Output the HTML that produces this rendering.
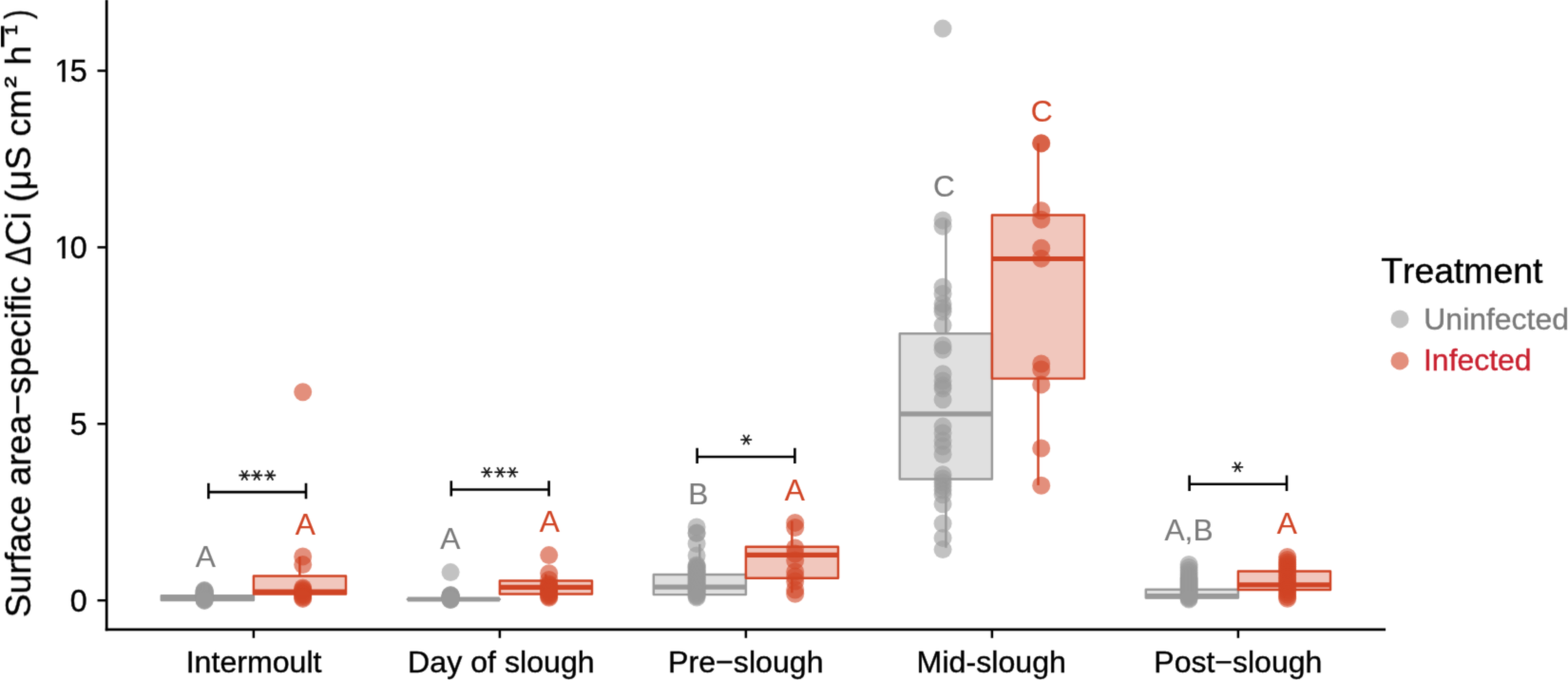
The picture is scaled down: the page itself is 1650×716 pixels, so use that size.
<!DOCTYPE html>
<html lang="en"><head><meta charset="utf-8"><title>Surface area-specific conductivity by moult stage</title>
<style>html,body{margin:0;padding:0;background:#fff;overflow:hidden}svg{display:block}text{font-family:"Liberation Sans",Arial,Helvetica,sans-serif;font-kerning:none;font-variant-ligatures:none}.st{font-family:"DejaVu Sans","Liberation Sans",sans-serif}</style>
</head><body>
<svg width="1650" height="716" viewBox="0 0 1650 716" role="img" aria-label="Box plot of surface area-specific conductivity change by moult stage and treatment">
<rect width="1650" height="716" fill="#ffffff"/>
<defs><filter id="soft" x="-2%" y="-2%" width="104%" height="104%" color-interpolation-filters="sRGB"><feConvolveMatrix order="3" kernelMatrix="0.025 0.095 0.025 0.095 0.52 0.095 0.025 0.095 0.025" divisor="1" edgeMode="duplicate" preserveAlpha="false"/></filter></defs>
<defs><clipPath id="nofoot" clipPathUnits="userSpaceOnUse"><rect x="-80" y="-40" width="100" height="37.13"/><rect x="-26.29" y="-2.97" width="3.26" height="6"/><rect x="-17.32" y="-2.97" width="40" height="12"/></clipPath></defs>
<g filter="url(#soft)">
<g stroke="#999999" stroke-width="2.45" fill="none" stroke-linejoin="round">
<rect x="169.8" y="627.3" width="97.1" height="4.70" fill="#999999" fill-opacity="0.3"/>
<line x1="169.8" y1="629.7" x2="266.9" y2="629.7" stroke-width="5.2"/>
</g>
<g stroke="#D04425" stroke-width="2.45" fill="none" stroke-linejoin="round">
<line x1="315.4" y1="586.1" x2="315.4" y2="606.5"/>
<line x1="315.4" y1="625.6" x2="315.4" y2="631.0"/>
<rect x="266.9" y="606.5" width="97.1" height="19.10" fill="#D04425" fill-opacity="0.3"/>
<line x1="266.9" y1="623.2" x2="364.0" y2="623.2" stroke-width="5.2"/>
</g>
<g stroke="#999999" stroke-width="2.45" fill="none" stroke-linejoin="round">
<rect x="428.8" y="631.0" width="97.1" height="0.01" fill="#999999" fill-opacity="0.3"/>
<line x1="428.8" y1="631.0" x2="525.9" y2="631.0" stroke-width="5.2"/>
</g>
<g stroke="#D04425" stroke-width="2.45" fill="none" stroke-linejoin="round">
<line x1="574.4" y1="604.5" x2="574.4" y2="611.4"/>
<line x1="574.4" y1="625.5" x2="574.4" y2="630.0"/>
<rect x="525.9" y="611.4" width="97.1" height="14.10" fill="#D04425" fill-opacity="0.3"/>
<line x1="525.9" y1="618.4" x2="623.0" y2="618.4" stroke-width="5.2"/>
</g>
<g stroke="#999999" stroke-width="2.45" fill="none" stroke-linejoin="round">
<line x1="736.3" y1="572.9" x2="736.3" y2="605.0"/>
<line x1="736.3" y1="626.1" x2="736.3" y2="630.0"/>
<rect x="687.8" y="605.0" width="97.1" height="21.10" fill="#999999" fill-opacity="0.3"/>
<line x1="687.8" y1="618.2" x2="784.9" y2="618.2" stroke-width="5.2"/>
</g>
<g stroke="#D04425" stroke-width="2.45" fill="none" stroke-linejoin="round">
<line x1="833.4" y1="548.5" x2="833.4" y2="575.7"/>
<line x1="833.4" y1="608.7" x2="833.4" y2="624.2"/>
<rect x="784.9" y="575.7" width="97.1" height="33.00" fill="#D04425" fill-opacity="0.3"/>
<line x1="784.9" y1="584.4" x2="882.0" y2="584.4" stroke-width="5.2"/>
</g>
<g stroke="#999999" stroke-width="2.45" fill="none" stroke-linejoin="round">
<line x1="995.4" y1="231.6" x2="995.4" y2="351.3"/>
<line x1="995.4" y1="504.5" x2="995.4" y2="576.8"/>
<rect x="946.8" y="351.3" width="97.1" height="153.20" fill="#999999" fill-opacity="0.3"/>
<line x1="946.8" y1="435.8" x2="1043.9" y2="435.8" stroke-width="5.2"/>
</g>
<g stroke="#D04425" stroke-width="2.45" fill="none" stroke-linejoin="round">
<line x1="1092.5" y1="150.8" x2="1092.5" y2="226.5"/>
<line x1="1092.5" y1="398.6" x2="1092.5" y2="510.9"/>
<rect x="1043.9" y="226.5" width="97.1" height="172.10" fill="#D04425" fill-opacity="0.3"/>
<line x1="1043.9" y1="272.5" x2="1141.0" y2="272.5" stroke-width="5.2"/>
</g>
<g stroke="#999999" stroke-width="2.45" fill="none" stroke-linejoin="round">
<line x1="1254.4" y1="600.0" x2="1254.4" y2="620.7"/>
<line x1="1254.4" y1="629.5" x2="1254.4" y2="631.0"/>
<rect x="1205.8" y="620.7" width="97.1" height="8.80" fill="#999999" fill-opacity="0.3"/>
<line x1="1205.8" y1="627.6" x2="1302.9" y2="627.6" stroke-width="5.2"/>
</g>
<g stroke="#D04425" stroke-width="2.45" fill="none" stroke-linejoin="round">
<line x1="1351.5" y1="590.0" x2="1351.5" y2="601.4"/>
<line x1="1351.5" y1="620.9" x2="1351.5" y2="630.0"/>
<rect x="1302.9" y="601.4" width="97.1" height="19.50" fill="#D04425" fill-opacity="0.3"/>
<line x1="1302.9" y1="615.9" x2="1400.0" y2="615.9" stroke-width="5.2"/>
</g>
<g fill="#999999" fill-opacity="0.6">
<circle cx="215.1" cy="621.6" r="9.5"/><circle cx="215.1" cy="622.1" r="9.5"/><circle cx="215.1" cy="622.6" r="9.5"/><circle cx="215.1" cy="623.1" r="9.5"/><circle cx="215.1" cy="623.7" r="9.5"/><circle cx="215.1" cy="624.2" r="9.5"/><circle cx="215.1" cy="624.7" r="9.5"/><circle cx="215.1" cy="625.2" r="9.5"/><circle cx="215.1" cy="625.7" r="9.5"/><circle cx="215.1" cy="626.2" r="9.5"/><circle cx="215.1" cy="626.7" r="9.5"/><circle cx="215.1" cy="627.3" r="9.5"/><circle cx="215.1" cy="627.8" r="9.5"/><circle cx="215.1" cy="628.3" r="9.5"/><circle cx="215.1" cy="628.8" r="9.5"/><circle cx="215.1" cy="629.3" r="9.5"/><circle cx="215.1" cy="629.8" r="9.5"/><circle cx="215.1" cy="630.3" r="9.5"/><circle cx="215.1" cy="630.9" r="9.5"/><circle cx="215.1" cy="631.4" r="9.5"/><circle cx="215.1" cy="631.9" r="9.5"/><circle cx="215.1" cy="632.4" r="9.5"/>
</g>
<g fill="#D04425" fill-opacity="0.6">
<circle cx="318.7" cy="412.7" r="9.5"/><circle cx="318.7" cy="585.9" r="9.5"/><circle cx="318.7" cy="594.6" r="9.5"/><circle cx="318.7" cy="619.0" r="9.5"/><circle cx="318.7" cy="620.4" r="9.5"/><circle cx="318.7" cy="621.9" r="9.5"/><circle cx="318.7" cy="623.3" r="9.5"/><circle cx="318.7" cy="624.7" r="9.5"/><circle cx="318.7" cy="626.1" r="9.5"/><circle cx="318.7" cy="627.5" r="9.5"/><circle cx="318.7" cy="629.0" r="9.5"/><circle cx="318.7" cy="630.4" r="9.5"/>
</g>
<g fill="#999999" fill-opacity="0.6">
<circle cx="474.1" cy="602.6" r="9.5"/><circle cx="474.1" cy="626.6" r="9.5"/><circle cx="474.1" cy="626.9" r="9.5"/><circle cx="474.1" cy="627.1" r="9.5"/><circle cx="474.1" cy="627.4" r="9.5"/><circle cx="474.1" cy="627.7" r="9.5"/><circle cx="474.1" cy="627.9" r="9.5"/><circle cx="474.1" cy="628.2" r="9.5"/><circle cx="474.1" cy="628.4" r="9.5"/><circle cx="474.1" cy="628.7" r="9.5"/><circle cx="474.1" cy="629.0" r="9.5"/><circle cx="474.1" cy="629.2" r="9.5"/><circle cx="474.1" cy="629.5" r="9.5"/><circle cx="474.1" cy="629.8" r="9.5"/><circle cx="474.1" cy="630.0" r="9.5"/><circle cx="474.1" cy="630.3" r="9.5"/><circle cx="474.1" cy="630.5" r="9.5"/><circle cx="474.1" cy="630.8" r="9.5"/><circle cx="474.1" cy="631.1" r="9.5"/><circle cx="474.1" cy="631.3" r="9.5"/><circle cx="474.1" cy="631.6" r="9.5"/>
</g>
<g fill="#D04425" fill-opacity="0.6">
<circle cx="577.7" cy="584.6" r="9.5"/><circle cx="577.7" cy="603.8" r="9.5"/><circle cx="577.7" cy="610.5" r="9.5"/><circle cx="577.7" cy="615.0" r="9.5"/><circle cx="577.7" cy="616.3" r="9.5"/><circle cx="577.7" cy="617.6" r="9.5"/><circle cx="577.7" cy="618.9" r="9.5"/><circle cx="577.7" cy="620.2" r="9.5"/><circle cx="577.7" cy="621.5" r="9.5"/><circle cx="577.7" cy="622.8" r="9.5"/><circle cx="577.7" cy="624.1" r="9.5"/><circle cx="577.7" cy="625.4" r="9.5"/><circle cx="577.7" cy="626.7" r="9.5"/><circle cx="577.7" cy="628.0" r="9.5"/><circle cx="577.7" cy="629.3" r="9.5"/>
</g>
<g fill="#999999" fill-opacity="0.6">
<circle cx="733.1" cy="554.9" r="9.5"/><circle cx="733.1" cy="561.0" r="9.5"/><circle cx="733.1" cy="561.6" r="9.5"/><circle cx="733.1" cy="572.5" r="9.5"/><circle cx="733.1" cy="585.0" r="9.5"/><circle cx="733.1" cy="595.0" r="9.5"/><circle cx="733.1" cy="596.2" r="9.5"/><circle cx="733.1" cy="597.3" r="9.5"/><circle cx="733.1" cy="598.5" r="9.5"/><circle cx="733.1" cy="599.7" r="9.5"/><circle cx="733.1" cy="600.9" r="9.5"/><circle cx="733.1" cy="602.0" r="9.5"/><circle cx="733.1" cy="603.2" r="9.5"/><circle cx="733.1" cy="604.4" r="9.5"/><circle cx="733.1" cy="605.6" r="9.5"/><circle cx="733.1" cy="606.7" r="9.5"/><circle cx="733.1" cy="607.9" r="9.5"/><circle cx="733.1" cy="609.1" r="9.5"/><circle cx="733.1" cy="610.2" r="9.5"/><circle cx="733.1" cy="611.4" r="9.5"/><circle cx="733.1" cy="612.6" r="9.5"/><circle cx="733.1" cy="613.8" r="9.5"/><circle cx="733.1" cy="614.9" r="9.5"/><circle cx="733.1" cy="616.1" r="9.5"/><circle cx="733.1" cy="617.3" r="9.5"/><circle cx="733.1" cy="618.4" r="9.5"/><circle cx="733.1" cy="619.6" r="9.5"/><circle cx="733.1" cy="620.8" r="9.5"/><circle cx="733.1" cy="622.0" r="9.5"/><circle cx="733.1" cy="623.1" r="9.5"/><circle cx="733.1" cy="624.3" r="9.5"/><circle cx="733.1" cy="625.5" r="9.5"/><circle cx="733.1" cy="626.7" r="9.5"/><circle cx="733.1" cy="627.8" r="9.5"/><circle cx="733.1" cy="629.0" r="9.5"/>
</g>
<g fill="#D04425" fill-opacity="0.6">
<circle cx="836.7" cy="550.4" r="9.5"/><circle cx="836.7" cy="555.5" r="9.5"/><circle cx="836.7" cy="577.0" r="9.5"/><circle cx="836.7" cy="583.0" r="9.5"/><circle cx="836.7" cy="590.0" r="9.5"/><circle cx="836.7" cy="602.0" r="9.5"/><circle cx="836.7" cy="607.0" r="9.5"/><circle cx="836.7" cy="612.0" r="9.5"/><circle cx="836.7" cy="621.0" r="9.5"/><circle cx="836.7" cy="625.3" r="9.5"/>
</g>
<g fill="#999999" fill-opacity="0.6">
<circle cx="992.1" cy="30.1" r="9.5"/><circle cx="992.1" cy="231.9" r="9.5"/><circle cx="992.1" cy="238.3" r="9.5"/><circle cx="992.1" cy="302.2" r="9.5"/><circle cx="992.1" cy="309.5" r="9.5"/><circle cx="992.1" cy="320.0" r="9.5"/><circle cx="992.1" cy="324.5" r="9.5"/><circle cx="992.1" cy="328.3" r="9.5"/><circle cx="992.1" cy="342.5" r="9.5"/><circle cx="992.1" cy="363.7" r="9.5"/><circle cx="992.1" cy="368.2" r="9.5"/><circle cx="992.1" cy="393.8" r="9.5"/><circle cx="992.1" cy="401.0" r="9.5"/><circle cx="992.1" cy="406.0" r="9.5"/><circle cx="992.1" cy="409.0" r="9.5"/><circle cx="992.1" cy="420.7" r="9.5"/><circle cx="992.1" cy="449.1" r="9.5"/><circle cx="992.1" cy="456.0" r="9.5"/><circle cx="992.1" cy="464.0" r="9.5"/><circle cx="992.1" cy="470.0" r="9.5"/><circle cx="992.1" cy="478.5" r="9.5"/><circle cx="992.1" cy="499.7" r="9.5"/><circle cx="992.1" cy="504.0" r="9.5"/><circle cx="992.1" cy="508.0" r="9.5"/><circle cx="992.1" cy="512.0" r="9.5"/><circle cx="992.1" cy="516.0" r="9.5"/><circle cx="992.1" cy="520.7" r="9.5"/><circle cx="992.1" cy="530.8" r="9.5"/><circle cx="992.1" cy="551.3" r="9.5"/><circle cx="992.1" cy="566.4" r="9.5"/><circle cx="992.1" cy="578.6" r="9.5"/>
</g>
<g fill="#D04425" fill-opacity="0.6">
<circle cx="1095.7" cy="150.8" r="9.5"/><circle cx="1095.7" cy="150.9" r="9.5"/><circle cx="1095.7" cy="221.8" r="9.5"/><circle cx="1095.7" cy="231.3" r="9.5"/><circle cx="1095.7" cy="261.3" r="9.5"/><circle cx="1095.7" cy="272.3" r="9.5"/><circle cx="1095.7" cy="383.0" r="9.5"/><circle cx="1095.7" cy="389.0" r="9.5"/><circle cx="1095.7" cy="404.9" r="9.5"/><circle cx="1095.7" cy="472.0" r="9.5"/><circle cx="1095.7" cy="511.3" r="9.5"/>
</g>
<g fill="#999999" fill-opacity="0.6">
<circle cx="1251.1" cy="594.5" r="9.5"/><circle cx="1251.1" cy="597.5" r="9.5"/><circle cx="1251.1" cy="600.5" r="9.5"/><circle cx="1251.1" cy="603.0" r="9.5"/><circle cx="1251.1" cy="605.5" r="9.5"/><circle cx="1251.1" cy="608.0" r="9.5"/><circle cx="1251.1" cy="609.0" r="9.5"/><circle cx="1251.1" cy="610.0" r="9.5"/><circle cx="1251.1" cy="611.0" r="9.5"/><circle cx="1251.1" cy="612.0" r="9.5"/><circle cx="1251.1" cy="613.0" r="9.5"/><circle cx="1251.1" cy="614.0" r="9.5"/><circle cx="1251.1" cy="615.0" r="9.5"/><circle cx="1251.1" cy="616.0" r="9.5"/><circle cx="1251.1" cy="617.0" r="9.5"/><circle cx="1251.1" cy="618.0" r="9.5"/><circle cx="1251.1" cy="619.0" r="9.5"/><circle cx="1251.1" cy="620.0" r="9.5"/><circle cx="1251.1" cy="621.0" r="9.5"/><circle cx="1251.1" cy="622.0" r="9.5"/><circle cx="1251.1" cy="623.0" r="9.5"/><circle cx="1251.1" cy="624.0" r="9.5"/><circle cx="1251.1" cy="625.0" r="9.5"/><circle cx="1251.1" cy="626.0" r="9.5"/><circle cx="1251.1" cy="627.0" r="9.5"/><circle cx="1251.1" cy="628.0" r="9.5"/><circle cx="1251.1" cy="629.0" r="9.5"/><circle cx="1251.1" cy="630.0" r="9.5"/><circle cx="1251.1" cy="631.0" r="9.5"/>
</g>
<g fill="#D04425" fill-opacity="0.6">
<circle cx="1354.7" cy="586.5" r="9.5"/><circle cx="1354.7" cy="589.5" r="9.5"/><circle cx="1354.7" cy="592.0" r="9.5"/><circle cx="1354.7" cy="594.3" r="9.5"/><circle cx="1354.7" cy="596.5" r="9.5"/><circle cx="1354.7" cy="598.8" r="9.5"/><circle cx="1354.7" cy="601.1" r="9.5"/><circle cx="1354.7" cy="603.3" r="9.5"/><circle cx="1354.7" cy="605.6" r="9.5"/><circle cx="1354.7" cy="607.9" r="9.5"/><circle cx="1354.7" cy="610.1" r="9.5"/><circle cx="1354.7" cy="612.4" r="9.5"/><circle cx="1354.7" cy="614.7" r="9.5"/><circle cx="1354.7" cy="616.9" r="9.5"/><circle cx="1354.7" cy="619.2" r="9.5"/><circle cx="1354.7" cy="621.5" r="9.5"/><circle cx="1354.7" cy="623.7" r="9.5"/><circle cx="1354.7" cy="626.0" r="9.5"/><circle cx="1354.7" cy="628.5" r="9.5"/><circle cx="1354.7" cy="630.2" r="9.5"/>
</g>
<text transform="translate(216.3 597.4) scale(1 0.995)" font-size="31.7" text-anchor="middle" fill="#7A7A7A" stroke="#7A7A7A" stroke-width="0.15">A</text>
<text transform="translate(321.3 562.7) scale(1 0.995)" font-size="31.7" text-anchor="middle" fill="#D04425" stroke="#D04425" stroke-width="0.15">A</text>
<text transform="translate(473.8 578.4) scale(1 0.995)" font-size="31.7" text-anchor="middle" fill="#7A7A7A" stroke="#7A7A7A" stroke-width="0.15">A</text>
<text transform="translate(578.2 560.0) scale(1 0.995)" font-size="31.7" text-anchor="middle" fill="#D04425" stroke="#D04425" stroke-width="0.15">A</text>
<text transform="translate(734.7 531.3) scale(1 0.995)" font-size="31.7" text-anchor="middle" fill="#7A7A7A" stroke="#7A7A7A" stroke-width="0.15">B</text>
<text transform="translate(836.4 527.0) scale(1 0.995)" font-size="31.7" text-anchor="middle" fill="#D04425" stroke="#D04425" stroke-width="0.15">A</text>
<text transform="translate(993.4 207.2) scale(1 0.995)" font-size="31.7" text-anchor="middle" fill="#7A7A7A" stroke="#7A7A7A" stroke-width="0.15">C</text>
<text transform="translate(1096.1 127.5) scale(1 0.995)" font-size="31.7" text-anchor="middle" fill="#D04425" stroke="#D04425" stroke-width="0.15">C</text>
<text transform="translate(1251.0 569.4) scale(1 0.995)" font-size="31.7" text-anchor="middle" fill="#7A7A7A" stroke="#7A7A7A" stroke-width="0.15">A,B</text>
<text transform="translate(1354.3 561.6) scale(1 0.995)" font-size="31.7" text-anchor="middle" fill="#D04425" stroke="#D04425" stroke-width="0.15">A</text>
<path d="M219.4 508.8V525.2M322.0 508.8V525.2M219.4 518.1H322.0" stroke="#000" stroke-width="2.6" fill="none"/>
<text x="244.5 258.0 271.5" y="494.4" rotate="90" class="st" font-size="24" fill="#111" stroke="#111" stroke-width="0.4">***</text>
<path d="M474.8 506.2V522.6M577.6 506.2V522.6M474.8 515.5H577.6" stroke="#000" stroke-width="2.6" fill="none"/>
<text x="500.0 513.5 527.0" y="491.3" rotate="90" class="st" font-size="24" fill="#111" stroke="#111" stroke-width="0.4">***</text>
<path d="M733.6 471.7V488.1M836.4 471.7V488.1M733.6 481.0H836.4" stroke="#000" stroke-width="2.6" fill="none"/>
<text x="772.5" y="457.1" rotate="90" class="st" font-size="24" fill="#111" stroke="#111" stroke-width="0.4">*</text>
<path d="M1251.6 500.5V516.9M1354.0 500.5V516.9M1251.6 509.8H1354.0" stroke="#000" stroke-width="2.6" fill="none"/>
<text x="1289.5" y="485.8" rotate="90" class="st" font-size="24" fill="#111" stroke="#111" stroke-width="0.4">*</text>
<g stroke="#000" stroke-width="2.8" fill="none">
<path d="M112.2 0V664.2"/>
<path d="M110.8 662.8H1458.1"/>
</g>
<g stroke="#000" stroke-width="2.5" fill="none">
<line x1="102.5" y1="632.2" x2="111" y2="632.2"/>
<line x1="102.5" y1="446.3" x2="111" y2="446.3"/>
<line x1="102.5" y1="260.4" x2="111" y2="260.4"/>
<line x1="102.5" y1="74.5" x2="111" y2="74.5"/>
<line x1="266.9" y1="662" x2="266.9" y2="671.8"/>
<line x1="525.9" y1="662" x2="525.9" y2="671.8"/>
<line x1="784.9" y1="662" x2="784.9" y2="671.8"/>
<line x1="1043.9" y1="662" x2="1043.9" y2="671.8"/>
<line x1="1302.9" y1="662" x2="1302.9" y2="671.8"/>
</g>
<text transform="translate(91.7 643.6) scale(1 1.015)" font-size="32.4" text-anchor="end" fill="#000" stroke="#000" stroke-width="0.4">0</text>
<text transform="translate(91.7 457.7) scale(1 1.015)" font-size="32.4" text-anchor="end" fill="#000" stroke="#000" stroke-width="0.4">5</text>
<text transform="translate(91.7 271.8) scale(1 1.015)" font-size="32.4" text-anchor="start" fill="#000" stroke="#000" stroke-width="0.4" clip-path="url(#nofoot)" x="-34.24 -18.02">10</text>
<text transform="translate(91.7 85.9) scale(1 1.015)" font-size="32.4" text-anchor="start" fill="#000" stroke="#000" stroke-width="0.4" clip-path="url(#nofoot)" x="-34.24 -18.02">15</text>
<text transform="translate(267.1 707.7) scale(1 0.99)" font-size="32.15" text-anchor="middle" fill="#000" stroke="#000" stroke-width="0.4">Intermoult</text>
<text transform="translate(527.4 707.7) scale(1 0.99)" font-size="32.2" text-anchor="middle" fill="#000" stroke="#000" stroke-width="0.4">Day of slough</text>
<text transform="translate(784.8 707.7) scale(1 0.99)" font-size="32.15" text-anchor="middle" fill="#000" stroke="#000" stroke-width="0.4">Pre−slough</text>
<text transform="translate(1043.3 707.7) scale(1 0.99)" font-size="32.2" text-anchor="middle" fill="#000" stroke="#000" stroke-width="0.4">Mid-slough</text>
<text transform="translate(1302.8 707.7) scale(1 0.99)" font-size="32.0" text-anchor="middle" fill="#000" stroke="#000" stroke-width="0.4">Post−slough</text>
<text transform="translate(32.00 650.20) rotate(-90)" font-size="37.25" fill="#000" stroke="#000" stroke-width="0.4">Surface area<tspan y="-1.5">−</tspan><tspan y="0">specific </tspan><tspan x="370.9" textLength="19.66" lengthAdjust="spacingAndGlyphs">Δ</tspan><tspan x="391.8">Ci (μS cm</tspan><tspan x="557.82" y="-6.7" font-size="28.64" stroke-width="0.6" textLength="12.01" lengthAdjust="spacingAndGlyphs">²</tspan><tspan> </tspan><tspan x="581.45" y="0">h</tspan><tspan class="st" x="597.75" y="-3.4" font-size="53" stroke-width="1.2">⁻</tspan><tspan x="613.6" y="-6.2" font-size="30.4" stroke-width="0.6">¹</tspan><tspan x="630.2" y="-0.8" textLength="9.68" lengthAdjust="spacingAndGlyphs">)</tspan></text>
<text transform="translate(1453.3 297.7) scale(1 1.0)" font-size="37.3" text-anchor="start" fill="#000" stroke="#000" stroke-width="0.4">Treatment</text>
<circle cx="1473" cy="335.9" r="9.5" fill="#999999" fill-opacity="0.6"/>
<circle cx="1473" cy="379.9" r="9.5" fill="#D04425" fill-opacity="0.6"/>
<text transform="translate(1498.3 346.9) scale(1 1.0)" font-size="31.95" text-anchor="start" fill="#7A7A7A" stroke="#7A7A7A" stroke-width="0.4">Uninfected</text>
<text transform="translate(1498.0 390.3) scale(1 1.0)" font-size="31.95" text-anchor="start" fill="#C9202F" stroke="#C9202F" stroke-width="0.4">Infected</text>
</g>
</svg>
</body></html>
